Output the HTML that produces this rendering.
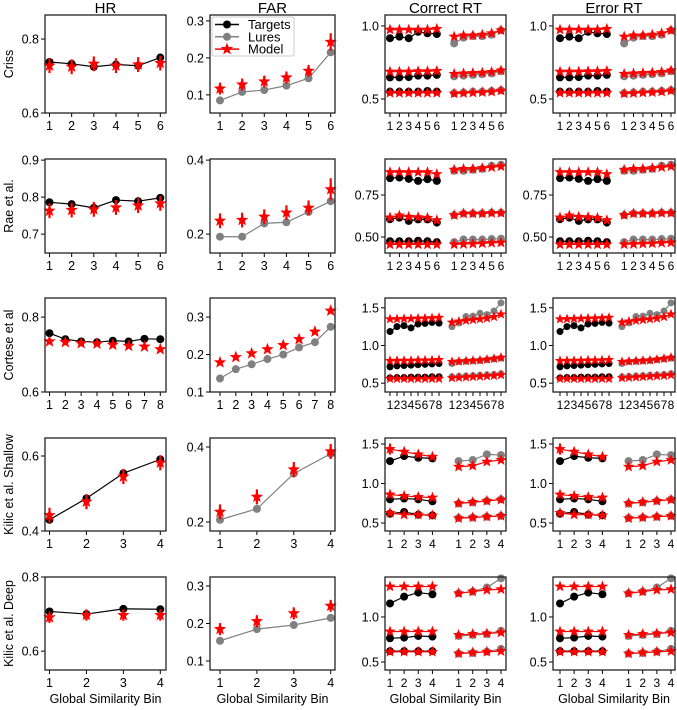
<!DOCTYPE html>
<html><head><meta charset="utf-8">
<style>
body{margin:0;background:#fff;}
svg{display:block;font-family:"Liberation Sans","DejaVu Sans",sans-serif;}
</style></head>
<body>
<svg id="fig" width="677" height="710" viewBox="0 0 677 710" xmlns="http://www.w3.org/2000/svg"></svg>
<script>
// ---------- data ----------
const rowNames = ["Criss","Rae et al.","Cortese et al","Kilic et al. Shallow","Kilic et al. Deep"];
const colTitles = ["HR","FAR","Correct RT","Error RT"];
// HR
const hrTargets = [
 [0.738,0.733,0.725,0.731,0.728,0.750],
 [0.786,0.781,0.771,0.792,0.789,0.798],
 [0.757,0.741,0.735,0.733,0.737,0.735,0.742,0.741],
 [0.430,0.487,0.554,0.591],
 [0.707,0.700,0.714,0.713]];
const hrModel = [
 [0.728,0.725,0.733,0.728,0.731,0.735],
 [0.763,0.765,0.767,0.772,0.777,0.783],
 [0.735,0.733,0.730,0.729,0.726,0.723,0.721,0.714],
 [0.442,0.478,0.545,0.582],
 [0.691,0.697,0.697,0.697]];
const hrErr = [0.02,0.02,0,0.02,0.015];
// FAR
const farLures = [
 [0.085,0.108,0.113,0.125,0.145,0.215],
 [0.193,0.193,0.229,0.232,0.260,0.289],
 [0.136,0.161,0.174,0.188,0.200,0.219,0.233,0.274],
 [0.206,0.235,0.329,0.382],
 [0.154,0.185,0.196,0.215]];
const farModel = [
 [0.117,0.128,0.136,0.147,0.165,0.243],
 [0.236,0.238,0.247,0.258,0.271,0.321],
 [0.179,0.193,0.203,0.214,0.225,0.241,0.261,0.317],
 [0.227,0.267,0.340,0.388],
 [0.185,0.206,0.227,0.247]];
const farErr = [0.016,0.02,0,0.02,0.016];
// RT quantiles (low, mid, high) for targets / lures, data and model
const rtTargets = [
 [[0.55,0.55,0.55,0.55,0.555,0.55],[0.648,0.648,0.65,0.66,0.66,0.665],[0.916,0.927,0.916,0.96,0.95,0.945]],
 [[0.475,0.475,0.475,0.478,0.475,0.47],[0.606,0.615,0.596,0.605,0.605,0.586],[0.85,0.854,0.846,0.834,0.844,0.834]],
 [[0.57,0.575,0.575,0.58,0.58,0.58,0.585,0.585],[0.716,0.73,0.735,0.74,0.745,0.75,0.755,0.76],[1.185,1.25,1.263,1.233,1.285,1.293,1.306,1.297]],
 [[0.618,0.64,0.606,0.597],[0.80,0.81,0.80,0.775],[1.284,1.347,1.326,1.318]],
 [[0.62,0.62,0.62,0.62],[0.763,0.771,0.789,0.782],[1.15,1.226,1.271,1.252]]];
const rtTargetsModel = [
 [[0.542,0.542,0.542,0.542,0.542,0.542],[0.687,0.687,0.687,0.69,0.69,0.692],[0.975,0.975,0.975,0.975,0.975,0.98]],
 [[0.456,0.456,0.456,0.456,0.456,0.456],[0.616,0.628,0.62,0.618,0.614,0.6],[0.886,0.886,0.886,0.886,0.886,0.874]],
 [[0.56,0.56,0.56,0.56,0.56,0.56,0.56,0.56],[0.797,0.8,0.8,0.8,0.805,0.805,0.805,0.81],[1.35,1.352,1.355,1.357,1.36,1.362,1.365,1.37]],
 [[0.627,0.606,0.606,0.597],[0.86,0.843,0.83,0.822],[1.436,1.403,1.369,1.339]],
 [[0.613,0.613,0.613,0.613],[0.838,0.838,0.838,0.838],[1.338,1.338,1.338,1.338]]];
const rtLures = [
 [[0.54,0.545,0.55,0.55,0.555,0.56],[0.655,0.66,0.665,0.67,0.675,0.69],[0.88,0.92,0.93,0.93,0.94,0.97]],
 [[0.47,0.485,0.485,0.485,0.488,0.49],[0.63,0.64,0.64,0.64,0.645,0.645],[0.894,0.894,0.90,0.905,0.924,0.93]],
 [[0.585,0.59,0.595,0.6,0.605,0.61,0.615,0.625],[0.76,0.785,0.79,0.795,0.8,0.81,0.82,0.83],[1.25,1.30,1.384,1.39,1.427,1.41,1.457,1.565]],
 [[0.564,0.57,0.58,0.59],[0.746,0.76,0.78,0.8],[1.284,1.297,1.369,1.36]],
 [[0.594,0.6,0.615,0.645],[0.789,0.8,0.81,0.846],[1.263,1.282,1.327,1.429]]];
const rtLuresModel = [
 [[0.537,0.54,0.543,0.546,0.55,0.557],[0.672,0.675,0.678,0.68,0.685,0.695],[0.927,0.935,0.935,0.94,0.95,0.97]],
 [[0.456,0.458,0.46,0.462,0.465,0.467],[0.63,0.64,0.64,0.64,0.643,0.643],[0.9,0.905,0.905,0.91,0.915,0.92]],
 [[0.57,0.575,0.58,0.585,0.59,0.595,0.6,0.61],[0.785,0.79,0.795,0.8,0.805,0.815,0.825,0.84],[1.306,1.32,1.33,1.34,1.35,1.36,1.38,1.414]],
 [[0.56,0.57,0.58,0.59],[0.75,0.765,0.78,0.795],[1.212,1.225,1.276,1.297]],
 [[0.594,0.605,0.613,0.62],[0.8,0.81,0.816,0.827],[1.263,1.282,1.3,1.308]]];
const rtFirstErr = [0,0,0,0.07,0];
// axis limits and ticks
const hrLim = [[0.6,0.865],[0.649,0.903],[0.6,0.851],[0.4,0.648],[0.549,0.8]];
const farLim = [[0.051,0.316],[0.149,0.403],[0.1,0.351],[0.176,0.424],[0.076,0.324]];
const rtLim = [[0.404,1.075],[0.405,0.964],[0.383,1.63],[0.399,1.576],[0.411,1.444]];
const hrTicks = [[0.6,0.8],[0.7,0.8,0.9],[0.6,0.8],[0.4,0.6],[0.6,0.8]];
const hrTickLabels = [["0.6","0.8"],["0.7","0.8","0.9"],["0.6","0.8"],["0.4","0.6"],["0.6","0.8"]];
const farTicks = [[0.1,0.2,0.3],[0.2,0.4],[0.1,0.2,0.3],[0.2,0.4],[0.1,0.2,0.3]];
const farTickLabels = [["0.1","0.2","0.3"],["0.2","0.4"],["0.1","0.2","0.3"],["0.2","0.4"],["0.1","0.2","0.3"]];
const rtTicks = [[0.5,1.0],[0.5,0.75],[0.5,1.0,1.5],[0.5,1.0,1.5],[0.5,1.0]];
const rtTickLabels = [["0.5","1.0"],["0.50","0.75"],["0.5","1.0","1.5"],["0.5","1.0","1.5"],["0.5","1.0"]];

// ---------- layout ----------
const rowBox = [[15,113],[159,253],[298,392],[438,531],[577,670]];
const colBox = [[45,166],[210,335],[385,506],[553,675]];
const colTick = [[49.5,160.3],[220,330.7],[390,501],[560,671]];
const NS = "http://www.w3.org/2000/svg";
const svg = document.getElementById('fig');
function el(tag, attrs, parent, text){
  const e = document.createElementNS(NS, tag);
  for (const k in attrs) e.setAttribute(k, attrs[k]);
  if (text !== undefined) e.textContent = text;
  (parent||svg).appendChild(e);
  return e;
}
function starPts(cx, cy, r){
  const pts=[]; const ri=r*0.42;
  for(let i=0;i<10;i++){
    const a=-Math.PI/2+i*Math.PI/5; const rr=i%2?ri:r;
    pts.push((cx+rr*Math.cos(a)).toFixed(2)+","+(cy+rr*Math.sin(a)).toFixed(2));
  }
  return pts.join(" ");
}
function yScale(r, lim){ const [t,b]=rowBox[r]; return v => b - (v-lim[0])/(lim[1]-lim[0])*(b-t); }
function xScale(c, dmin, dmax){ const [a,b]=colTick[c]; return v => a + (v-dmin)/(dmax-dmin)*(b-a); }

function drawAxes(g, r, c, y, ticks, labels, xt, xfs){
  const [l,rr]=colBox[c]; const [t,b]=rowBox[r];
  for(let i=0;i<ticks.length;i++){
    const yy=y(ticks[i]);
    el('line',{x1:l-4,x2:l,y1:yy,y2:yy,stroke:'#000','stroke-width':1},g);
    const tl = el('text',{x:l-6,y:yy+4.5,'text-anchor':'end','font-size':12.5,fill:'#000'},g,labels[i]);
    
    
  }
  for(const [xx,lab] of xt){
    el('line',{x1:xx,x2:xx,y1:b,y2:b+4,stroke:'#000','stroke-width':1},g);
    const tl = el('text',{x:xx,y:b+17,'text-anchor':'middle','font-size':xfs,fill:'#000'},g,lab);
    
    
  }
}
function frame(g,c,r){
  const [l,rr]=colBox[c]; const [t,b]=rowBox[r];
  const f = el('rect',{x:l,y:t,width:rr-l,height:b-t,fill:'none',stroke:'#222','stroke-width':1.3},g);
  
  
}
function series(g, xs, ys, color, kind, line, err, name, dr){
  const s = el('g',{},g);
  
  
  if(line) el('polyline',{points:xs.map((x,i)=>x+','+ys[i]).join(' '),fill:'none',stroke:color,'stroke-width':1.2},s);
  for(let i=0;i<xs.length;i++){
    if(err && err[i]) el('line',{x1:xs[i],x2:xs[i],y1:err[i][0],y2:err[i][1],stroke:color,'stroke-width':2.2},s);
    if(kind==='dot'){ const m = el('circle',{cx:xs[i],cy:ys[i],r:dr||4,fill:color},s);
        }
    else { const m = el('polygon',{points:starPts(xs[i],ys[i],kind),fill:color},s);
        }
  }
}

// titles
colTitles.forEach((t,c)=>{
  const e = el('text',{x:(colBox[c][0]+colBox[c][1])/2,y:13,'text-anchor':'middle','font-size':15,fill:'#000'},svg,t);
  
  
});
rowNames.forEach((t,r)=>{
  const cy=(rowBox[r][0]+rowBox[r][1])/2;
  const e = el('text',{x:0,y:0,transform:`translate(13,${cy}) rotate(-90)`,'text-anchor':'middle','font-size':12.5,fill:'#000'},svg,t);
  
  
});
colBox.forEach((b,c)=>{
  const e = el('text',{x:(b[0]+b[1])/2,y:703,'text-anchor':'middle','font-size':12.5,fill:'#000'},svg,'Global Similarity Bin');
  
  
});

for(let r=0;r<5;r++){
  const n = hrTargets[r].length;
  const idx = hrTargets[r].map((_,i)=>i+1);
  // HR
  let g = el('g',{});  
  let y = yScale(r,hrLim[r]); let x = xScale(0,1,n);
  drawAxes(g,r,0,y,hrTicks[r],hrTickLabels[r],idx.map(i=>[x(i),String(i)]),12.5);
  series(g,idx.map(x),hrTargets[r].map(y),'#000','dot',true,null,'hr-targets');
  series(g,idx.map(x),hrModel[r].map(y),'#ff0000',6.5,false,hrErr[r]?hrModel[r].map(v=>[y(v+hrErr[r]),y(v-hrErr[r])]):null,'hr-model');
  frame(g,0,r);
  // FAR
  g = el('g',{});  
  y = yScale(r,farLim[r]); x = xScale(1,1,n);
  drawAxes(g,r,1,y,farTicks[r],farTickLabels[r],idx.map(i=>[x(i),String(i)]),12.5);
  series(g,idx.map(x),farLures[r].map(y),'#808080','dot',true,null,'far-lures');
  series(g,idx.map(x),farModel[r].map(y),'#ff0000',6.5,false,farErr[r]?farModel[r].map((v,i)=>{const e=farErr[r]*(i===n-1&&r<2?1.5:1);return [y(v+e),y(v-e)];}):null,'far-model');
  frame(g,1,r);
  // RT panels
  for(const c of [2,3]){
    g = el('g',{});  
    y = yScale(r,rtLim[r]);
    const off = n+1.85;
    x = xScale(c,1,off+n-1);
    const xt = idx.map(i=>[x(i),String(i)]).concat(idx.map(i=>[x(off+i-1),String(i)]));
    drawAxes(g,r,c,y,rtTicks[r],rtTickLabels[r],xt,12);
    const xT = idx.map(x); const xL = idx.map(i=>x(off+i-1));
    const dr = n>6 ? 3.5 : 4;
    const sr = n>6 ? 5.5 : 6;
    for(let q=0;q<3;q++){
      series(g,xT,rtTargets[r][q].map(y),'#000','dot',true,null,'rt-targets-q'+(q+1),dr);
      series(g,xL,rtLures[r][q].map(y),'#808080','dot',true,null,'rt-lures-q'+(q+1),dr);
      const errT = (q===2 && rtFirstErr[r]) ? rtTargetsModel[r][q].map((v,i)=>i===0?[y(v+rtFirstErr[r]),y(v-rtFirstErr[r])]:null) : null;
      series(g,xT,rtTargetsModel[r][q].map(y),'#ff0000',sr,true,errT,'rt-model-targets-q'+(q+1));
      series(g,xL,rtLuresModel[r][q].map(y),'#ff0000',sr,true,null,'rt-model-lures-q'+(q+1));
    }
    frame(g,c,r);
  }
}
// legend
const lg = el('g',{});  
el('rect',{x:212,y:17,width:82,height:39,rx:2,fill:'#fff','fill-opacity':0.85,stroke:'#ccc','stroke-width':1},lg);
const legendItems = [['Targets','#000','dot'],['Lures','#808080','dot'],['Model','#ff0000','star']];
legendItems.forEach((it,i)=>{
  const yy=24.5+i*12.3;
  const e = el('g',{},lg);
  
  
  el('line',{x1:215,x2:239,y1:yy,y2:yy,stroke:it[1],'stroke-width':1.5},e);
  if(it[2]==='dot') el('circle',{cx:227,cy:yy,r:4,fill:it[1]},e);
  else el('polygon',{points:starPts(227,yy,6.5),fill:it[1]},e);
  el('text',{x:248,y:yy+4.5,'font-size':13,fill:'#000'},e,it[0]);
});
</script>
</body></html>
